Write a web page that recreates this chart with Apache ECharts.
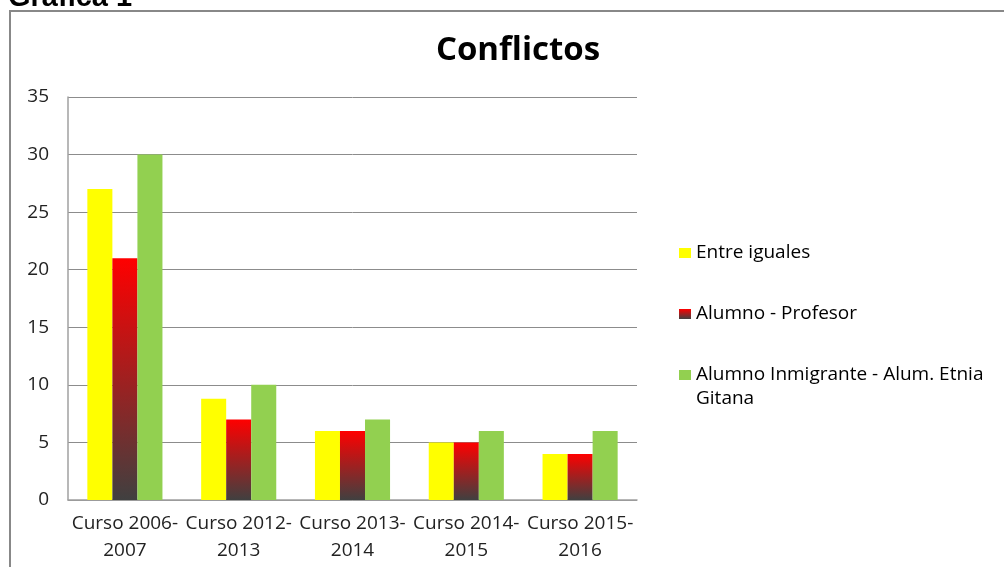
<!DOCTYPE html>
<html>
<head>
<meta charset="utf-8">
<script src="https://cdn.jsdelivr.net/npm/echarts@6/dist/echarts.min.js"></script>
<style>
  html, body { margin: 0; padding: 0; background: #fff; }
</style>
</head>
<body>
	<div id="main" style="width: 1004px; height: 567px;"></div>
	<script type="text/javascript">
		// datos
		var cursos = ['Curso 2006-\n2007', 'Curso 2012-\n2013', 'Curso 2013-\n2014', 'Curso 2014-\n2015', 'Curso 2015-\n2016'];
		var nombres = ['Entre iguales', 'Alumno - Profesor', 'Alumno Inmigrante - Alum. Etnia Gitana'];
		var entreIguales = [27, 8.8, 6, 5, 4];
		var alumnoProfesor = [21, 7, 6, 5, 4];
		var alumnoInmigrante = [30, 10, 7, 6, 6];
		var ticksY = [0, 5, 10, 15, 20, 25, 30, 35];

		var myChart = echarts.init(document.getElementById('main'));

		var fuente = '"Open Sans", "DejaVu Sans", sans-serif';
		var rojo = new echarts.graphic.LinearGradient(0, 0, 0, 1, [
			{ offset: 0, color: '#ff0000' },
			{ offset: 1, color: '#404040' }
		]);
		var textoLeyenda = { fontFamily: fuente, fontSize: 19, color: '#000', lineHeight: 24 };

		var option = {
			animation: false,
			title: {
				text: 'Conflictos',
				left: 513,
				top: 29,
				textAlign: 'center',
				textStyle: { fontFamily: fuente, fontSize: 33, fontWeight: 'bold', color: '#000' }
			},
			graphic: [
				{
					type: 'rect',
					shape: { x: 10, y: 11, width: 1100, height: 700 },
					style: { fill: null, stroke: '#888', lineWidth: 2 },
					z: -1
				},
				{
					type: 'text',
					left: 8,
					top: -17,
					style: { text: 'Gráfica 1', font: 'bold 29px "Liberation Sans", Arial, sans-serif', fill: '#000' }
				}
			],
			// dos leyendas: la tercera entrada ocupa dos líneas con el icono en la primera
			legend: [
				{
					orient: 'vertical',
					left: 674,
					top: 236,
					itemGap: 37,
					itemWidth: 12,
					itemHeight: 10,
					icon: 'rect',
					data: [nombres[0], nombres[1]],
					textStyle: textoLeyenda
				},
				{
					orient: 'vertical',
					left: 674,
					top: 334,
					itemWidth: 12,
					itemHeight: 10,
					icon: 'rect',
					data: [nombres[2]],
					formatter: function () {
						return '\nAlumno Inmigrante - Alum. Etnia\nGitana';
					},
					textStyle: textoLeyenda
				}
			],
			grid: { left: 68, top: 97, width: 569, height: 403 },
			xAxis: {
				type: 'category',
				data: cursos,
				axisLine: { lineStyle: { color: '#a0a0a0', width: 1.5 } },
				axisTick: { show: false },
				axisLabel: { fontFamily: fuente, fontSize: 19, color: '#222', lineHeight: 27, margin: 10, interval: 0 }
			},
			yAxis: {
				type: 'value',
				min: ticksY[0],
				max: ticksY[ticksY.length - 1],
				interval: 5,
				axisLine: { show: true, lineStyle: { color: '#a0a0a0', width: 1.5 } },
				axisTick: { show: false },
				splitLine: { lineStyle: { color: '#8c8c8c', width: 1 } },
				axisLabel: { fontFamily: fuente, fontSize: 19, color: '#222', margin: 19 }
			},
			series: [
				{
					name: nombres[0], type: 'bar', data: entreIguales,
					barGap: '0%', barCategoryGap: '34%',
					itemStyle: { color: '#ffff00' }
				},
				{
					name: nombres[1], type: 'bar', data: alumnoProfesor,
					itemStyle: { color: rojo }
				},
				{
					name: nombres[2], type: 'bar', data: alumnoInmigrante,
					itemStyle: { color: '#92d050' }
				}
			]
		};

		myChart.setOption(option);
	</script>
</body>
</html>
